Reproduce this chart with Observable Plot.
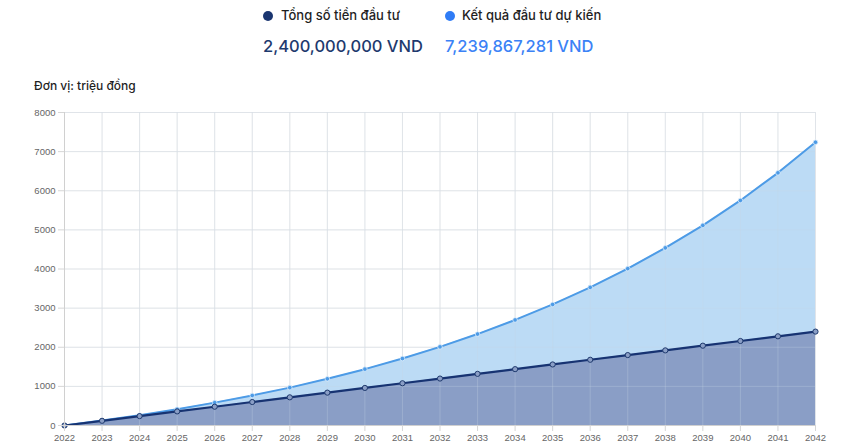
<!DOCTYPE html>
<html>
<head>
<meta charset="utf-8">
<script src="https://cdn.jsdelivr.net/npm/d3@7"></script>
<script src="https://cdn.jsdelivr.net/npm/@observablehq/plot@0.6"></script>
<style>
  body { margin: 0; background: #fff; font-family: Inter, "Noto Sans", sans-serif; }
  #wrap { position: relative; width: 860px; height: 447px; }
  .leg { position: absolute; font-size: 13px; font-weight: 500; color: #1f1f1f; white-space: nowrap; }
  .dot { position: absolute; width: 10px; height: 10px; border-radius: 50%; }
  .val { position: absolute; font-size: 16.5px; font-weight: 500; white-space: nowrap; }
  .unit { position: absolute; left: 34px; top: 78px; font-size: 12px; font-weight: 500; color: #1f1f1f; }
  #chart { position: absolute; left: 0; top: 100px; }
  #chart text { font-family: "Liberation Sans", Arial, sans-serif; }
</style>
</head>
<body>
<div id="wrap">
  <div class="dot" style="left:263px;top:11px;background:#1a3570"></div>
  <div class="leg" style="left:281px;top:7px">Tổng số tiền đầu tư</div>
  <div class="val" style="left:263px;top:36px;color:#1e3a6e">2,400,000,000 VND</div>
  <div class="dot" style="left:445px;top:11px;background:#2f7cf6"></div>
  <div class="leg" style="left:462px;top:7px">Kết quả đầu tư dự kiến</div>
  <div class="val" style="left:445px;top:36px;color:#3b82f6">7,239,867,281 VND</div>
  <div class="unit">Đơn vị: triệu đồng</div>
  <div id="chart"></div>
</div>
<script>
const years = [2022,2023,2024,2025,2026,2027,2028,2029,2030,2031,2032,2033,2034,2035,2036,2037,2038,2039,2040,2041,2042];
const invested = [0,120,240,360,480,600,720,840,960,1080,1200,1320,1440,1560,1680,1800,1920,2040,2160,2280,2400];
const projected = [0,125,263,416,585,768,968,1193,1440,1711,2010,2337,2698,3094,3530,4010,4540,5115,5752,6458,7240];
const yTicks = [0,1000,2000,3000,4000,5000,6000,7000,8000];

const data = years.map((y, i) => ({year: y, invested: invested[i], projected: projected[i]}));

const chart = Plot.plot({
  width: 860,
  height: 347,
  marginTop: 12,
  marginBottom: 22,
  marginLeft: 64,
  marginRight: 45,
  style: {fontSize: "9.5px", color: "#666", background: "transparent"},
  x: {type: "linear", domain: [2022, 2042], ticks: years, tickFormat: d => String(d), label: null, tickSize: 5, tickPadding: 3},
  y: {domain: [0, 8000], ticks: yTicks, tickFormat: d => String(d), label: null, tickSize: 6, tickPadding: 3},
  marks: [
    Plot.gridX(years, {stroke: "#ebebeb", strokeOpacity: 1}),
    Plot.gridY(yTicks, {stroke: "#ebebeb", strokeOpacity: 1}),
    Plot.areaY(data, {x: "year", y: "projected", fill: "#bcdbf5"}),
    Plot.areaY(data, {x: "year", y: "invested", fill: "#8a9ec6"}),
    Plot.gridX(years, {stroke: "#c8d4e4", strokeOpacity: 0.3}),
    Plot.gridY(yTicks, {stroke: "#c8d4e4", strokeOpacity: 0.3}),
    Plot.line(data, {x: "year", y: "projected", stroke: "#4d9be6", strokeWidth: 2}),
    Plot.dot(data, {x: "year", y: "projected", r: 2.3, fill: "#4d9be6", stroke: "#dcecfb", strokeWidth: 0.8}),
    Plot.line(data, {x: "year", y: "invested", stroke: "#173372", strokeWidth: 2.2}),
    Plot.dot(data, {x: "year", y: "invested", r: 2.6, fill: "#8a9ec6", stroke: "#1f3a6e", strokeWidth: 1}),
    Plot.ruleX([2022], {stroke: "#d0d0d0"}),
    Plot.ruleY([0], {stroke: "#d0d0d0"}),
    Plot.axisX({ticks: years, tickFormat: d => String(d), stroke: "#d6d6d6", fill: "#666"}),
    Plot.axisY({ticks: yTicks, tickFormat: d => String(d), stroke: "#d6d6d6", fill: "#666"})
  ]
});
document.getElementById("chart").appendChild(chart);
</script>
</body>
</html>
